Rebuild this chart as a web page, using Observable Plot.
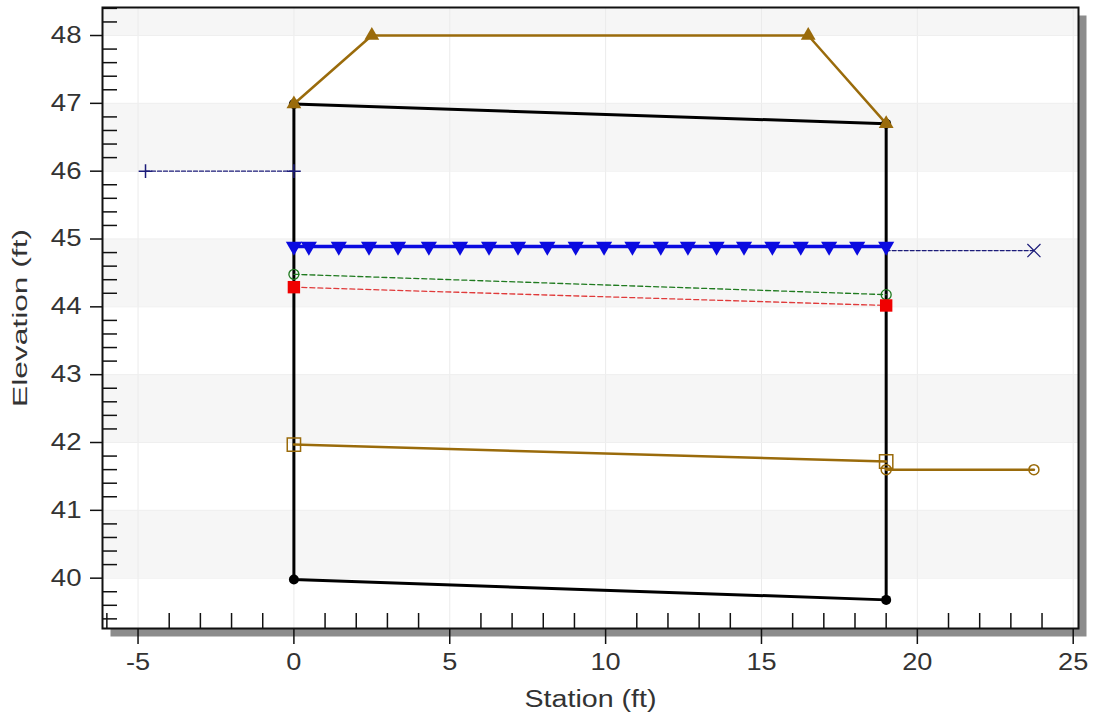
<!DOCTYPE html>
<html><head><meta charset="utf-8">
<script src="https://cdn.jsdelivr.net/npm/d3@7"></script>
<script src="https://cdn.jsdelivr.net/npm/@observablehq/plot@0.6"></script>
<style>
html,body{margin:0;padding:0;background:#fff;}
#chart svg{display:block;}
</style></head><body><div id="chart"></div>
<script>
// ---- axis ticks ----
const xMajor = [-5, 0, 5, 10, 15, 20, 25];
const xMinor = [-6, -4, -3, -2, -1, 1, 2, 3, 4, 6, 7, 8, 9, 11, 12, 13, 14, 16, 17, 18, 19, 21, 22, 23, 24];
const yMajor = [40, 41, 42, 43, 44, 45, 46, 47, 48];
const yMinor = [39.4, 39.6, 39.8, 40.2, 40.4, 40.6, 40.8, 41.2, 41.4, 41.6, 41.8, 42.2, 42.4, 42.6, 42.8,
  43.2, 43.4, 43.6, 43.8, 44.2, 44.4, 44.6, 44.8, 45.2, 45.4, 45.6, 45.8, 46.2, 46.4, 46.6, 46.8,
  47.2, 47.4, 47.6, 47.8, 48.2, 48.4];
const bandLo = [40, 42, 44, 46, 48];
const bandHi = [41, 43, 45, 47, 49];

// ---- series ----
// bridge opening outline (black)
const bridgeSta = [0, 0, 19, 19, 0];
const bridgeElev = [39.98, 46.99, 46.70, 39.68, 39.98];
const bridgeDotSta = [0, 0, 19, 19];
const bridgeDotElev = [39.98, 46.99, 46.70, 39.68];
// road / deck (brown, triangles)
const deckSta = [0, 2.5, 16.5, 19];
const deckElev = [46.99, 48.0, 48.0, 46.70];
// water surface (blue, down triangles)
const wsSta = [0, 0.48, 1.44, 2.41, 3.34, 4.33, 5.33, 6.26, 7.19, 8.13, 9.04, 9.95, 10.86, 11.77, 12.64, 13.56, 14.44, 15.35, 16.26, 17.17, 18.07, 19];
const wsElev = [44.89, 44.89, 44.89, 44.89, 44.89, 44.89, 44.89, 44.89, 44.89, 44.89, 44.89, 44.89, 44.89, 44.89, 44.89, 44.89, 44.89, 44.89, 44.89, 44.89, 44.89, 44.89];
// upstream level (navy dashed, plus)
const plusSta = [-4.76, 0];
const plusElev = [46.0, 46.0];
// downstream level (navy dashed, x)
const timesSta = [19, 23.74];
const timesElev = [44.83, 44.83];
// energy grade (green dashed, open circles)
const egSta = [0, 19];
const egElev = [44.48, 44.18];
// critical (red dashed, filled squares)
const critSta = [0, 19];
const critElev = [44.29, 44.02];
// brown solid with open squares
const sqSta = [0, 19];
const sqElev = [41.97, 41.72];
// brown solid with open circles
const ocSta = [19, 23.74];
const ocElev = [41.60, 41.60];

const pts = (xs, ys) => xs.map((x, i) => ({x, y: ys[i]}));
const bands = bandLo.map((lo, i) => ({lo, hi: bandHi[i]}));

const brown = "#9a6b0b";
const navy = "#1c1c7a";
const blue = "#0a0ae0";

const chart = Plot.plot({
  width: 1094,
  height: 712,
  marginLeft: 102,
  marginRight: 16,
  marginTop: 7,
  marginBottom: 84,
  x: {domain: [-6.14, 25.17]},
  y: {domain: [39.258, 48.413]},
  style: {fontFamily: "'Liberation Sans', Arial, sans-serif", background: "white", overflow: "visible"},
  marks: [
    Plot.frame({fill: "#8c8c8c", dx: 8, dy: 8}),
    Plot.frame({fill: "white"}),
    Plot.rect(bands, {y1: "lo", y2: "hi", fill: "#f6f6f6", clip: true}),
    Plot.gridX(xMajor, {stroke: "#ebebeb", strokeOpacity: 1}),
    Plot.gridY(yMajor, {stroke: "#efefef", strokeOpacity: 1}),
    // bridge outline
    Plot.line(pts(bridgeSta, bridgeElev), {x: "x", y: "y", stroke: "black", strokeWidth: 3}),
    Plot.dot(pts(bridgeDotSta, bridgeDotElev), {x: "x", y: "y", fill: "black", r: 5}),
    // deck
    Plot.line(pts(deckSta, deckElev), {x: "x", y: "y", stroke: brown, strokeWidth: 2.5}),
    Plot.dot(pts(deckSta, deckElev), {x: "x", y: "y", symbol: "triangle", fill: brown, r: 5.5}),
    // lower brown lines
    Plot.line(pts(sqSta, sqElev), {x: "x", y: "y", stroke: brown, strokeWidth: 2.5}),
    Plot.line(pts(ocSta, ocElev), {x: "x", y: "y", stroke: brown, strokeWidth: 2.5}),
    Plot.dot(pts(sqSta, sqElev), {x: "x", y: "y", symbol: "square", stroke: brown, strokeWidth: 1.5, fill: "none", r: 7.5}),
    Plot.dot(pts(ocSta, ocElev), {x: "x", y: "y", symbol: "circle", stroke: brown, strokeWidth: 1.5, fill: "none", r: 5}),
    // dashed levels
    Plot.line(pts(plusSta, plusElev), {x: "x", y: "y", stroke: navy, strokeWidth: 1.2, strokeDasharray: "4,2"}),
    Plot.dot(pts(plusSta, plusElev), {x: "x", y: "y", symbol: "plus", stroke: navy, strokeWidth: 1.5, r: 4.5}),
    Plot.line(pts(timesSta, timesElev), {x: "x", y: "y", stroke: navy, strokeWidth: 1.2, strokeDasharray: "4,2"}),
    Plot.dot(pts(timesSta.slice(1), timesElev.slice(1)), {x: "x", y: "y", symbol: "times", stroke: navy, strokeWidth: 1.2, r: 6}),
    Plot.line(pts(egSta, egElev), {x: "x", y: "y", stroke: "#1f7a1f", strokeWidth: 1.3, strokeDasharray: "5,3"}),
    Plot.dot(pts(egSta, egElev), {x: "x", y: "y", symbol: "circle", stroke: "#1f7a1f", strokeWidth: 1.3, fill: "none", r: 5}),
    Plot.line(pts(critSta, critElev), {x: "x", y: "y", stroke: "#e03a3a", strokeWidth: 1.3, strokeDasharray: "5,3"}),
    Plot.dot(pts(critSta, critElev), {x: "x", y: "y", symbol: "square", fill: "#f00000", r: 7}),
    // water surface
    Plot.line(pts(wsSta, wsElev), {x: "x", y: "y", stroke: blue, strokeWidth: 3.5}),
    Plot.dot(pts(wsSta, wsElev), {x: "x", y: "y", symbol: "triangle", rotate: 180, fill: blue, r: 6}),
    // minor ticks (inside)
    Plot.axisX(xMinor, {tickSize: -15, text: null, label: null, strokeWidth: 1.5, stroke: "#111"}),
    Plot.axisY(yMinor, {tickSize: -15, text: null, label: null, strokeWidth: 1.5, stroke: "#111"}),
    // major ticks (outside)
    Plot.axisX(xMajor, {tickSize: 16, tickPadding: 9, fontSize: 23, tickFormat: d => String(d), strokeWidth: 1.5, stroke: "#111", fill: "#333", label: null}),
    Plot.axisY(yMajor, {tickSize: 12, tickPadding: 9, fontSize: 23, tickFormat: d => String(d), strokeWidth: 1.5, stroke: "#111", fill: "#333", label: null}),
    Plot.frame({stroke: "#111", strokeWidth: 2}),
    Plot.text(["Station (ft)"], {frameAnchor: "bottom", dy: 62, lineAnchor: "top", textAnchor: "middle", fontSize: 23, fill: "#333"}),
    Plot.text(["Elevation (ft)"], {frameAnchor: "left", dx: -82, rotate: -90, lineAnchor: "middle", textAnchor: "middle", fontSize: 20, fill: "#333"})
  ]
});
document.getElementById("chart").append(chart);

function stretch(t, f, abs) {
  const w = t.getComputedTextLength();
  t.setAttribute("textLength", abs ? abs : w * f);
  t.setAttribute("lengthAdjust", "spacingAndGlyphs");
}
chart.querySelectorAll('g[aria-label="x-axis tick label"] text').forEach(t => stretch(t, 1.18));
chart.querySelectorAll('g[aria-label="y-axis tick label"] text').forEach(t => stretch(t, 1.2));
chart.querySelectorAll('text').forEach(t => {
  if (t.textContent === "Station (ft)") stretch(t, 1, 132);
  if (t.textContent === "Elevation (ft)") stretch(t, 1, 178);
});
</script></body></html>
